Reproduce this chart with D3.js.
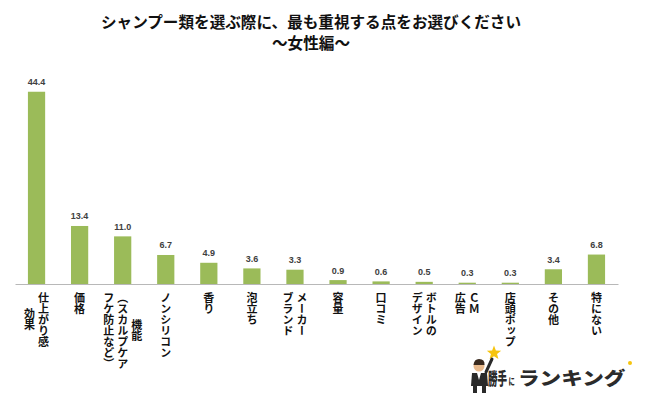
<!DOCTYPE html>
<html>
<head>
<meta charset="utf-8">
<script src="https://cdn.jsdelivr.net/npm/d3@7"></script>
<style>
  html, body { margin: 0; padding: 0; background: #fff; }
  svg { display: block; }
</style>
</head>
<body>
<svg id="chart" width="650" height="395"></svg>
<script>
// ---- data ----
const titleLines = ["シャンプー類を選ぶ際に、最も重視する点をお選びください", "～女性編～"];
const categories = ["仕上がり感効果", "価格", "機能（スカルプケアフケ防止など）", "ノンシリコン", "香り", "泡立ち", "メーカーブランド", "容量", "口コミ", "ボトルのデザイン", "ＣＭ広告", "店頭ポップ", "その他", "特にない"];
const categoryLines = [
  ["仕上がり感", "効果"],
  ["価格"],
  ["機能", "（スカルプケア", "フケ防止など）"],
  ["ノンシリコン"],
  ["香り"],
  ["泡立ち"],
  ["メーカー", "ブランド"],
  ["容量"],
  ["口コミ"],
  ["ボトルの", "デザイン"],
  ["ＣＭ", "広告"],
  ["店頭ポップ"],
  ["その他"],
  ["特にない"]
];
const values = [44.4, 13.4, 11.0, 6.7, 4.9, 3.6, 3.3, 0.9, 0.6, 0.5, 0.3, 0.3, 3.4, 6.8];
const logoParts = ["勝手", "に", "ランキング"];

// ---- chart ----
const svg = d3.select("#chart");
const jp = "'Noto Sans CJK JP', 'Noto Sans CJK SC', sans-serif";

const x = d3.scaleBand().domain(categories).range([15, 618]).paddingInner(0.6).paddingOuter(0.3);
const y = d3.scaleLinear().domain([0, 50]).range([284, 284 - 216.5]);

// title
svg.selectAll("text.title").data(titleLines).join("text")
  .attr("class", "title")
  .attr("x", 311)
  .attr("y", (d, i) => 28 + i * 21)
  .attr("text-anchor", "middle")
  .style("font-family", jp)
  .style("font-weight", "700")
  .style("font-size", "15.6px")
  .style("fill", "#111")
  .text(d => d);

// bars
svg.append("g").selectAll("rect").data(values).join("rect")
  .attr("x", (d, i) => x(categories[i]))
  .attr("y", d => y(d))
  .attr("width", x.bandwidth())
  .attr("height", d => y(0) - y(d))
  .attr("fill", "#9BBB59");

// value labels
svg.append("g").selectAll("text").data(values).join("text")
  .attr("x", (d, i) => x(categories[i]) + x.bandwidth() / 2)
  .attr("y", d => y(d) - 6.5)
  .attr("text-anchor", "middle")
  .style("font-family", "'Liberation Sans', Arial, sans-serif")
  .style("font-weight", "700")
  .style("font-size", "9px")
  .style("fill", "#404040")
  .text(d => d.toFixed(1));

// axis line
const axis = svg.append("g")
  .attr("transform", `translate(0,${y(0)})`)
  .call(d3.axisBottom(x).tickSize(0).tickFormat(""));
axis.select(".domain").attr("stroke", "#b8b8b8").attr("stroke-width", 1);

// category labels (vertical text, columns right to left)
const fs = 11, colPitch = 14, labelTop = 292;
categoryLines.forEach((lines, i) => {
  const cx = x(categories[i]) + x.bandwidth() / 2;
  const n = lines.length;
  const maxLen = d3.max(lines, l => l.length);
  const g = svg.append("g");
  g.selectAll("text").data(lines).join("text")
    .attr("x", (d, j) => cx + ((n - 1) / 2 - j) * colPitch)
    .attr("y", d => labelTop + (maxLen - d.length) * fs / 2)
    .style("writing-mode", "vertical-rl")
    .style("font-family", jp)
    .style("font-weight", "700")
    .style("font-size", fs + "px")
    .style("fill", "#111")
    .text(d => d);
});

// logo (approximation)
const logo = svg.append("g");
const star = d3.range(10).map(k => {
  const r = k % 2 === 0 ? 7.5 : 3.2;
  const a = -Math.PI / 2 + k * Math.PI / 5;
  return [494 + r * Math.cos(a), 353 + r * Math.sin(a)];
});
logo.append("polygon").attr("points", star.map(p => p.join(",")).join(" ")).attr("fill", "#F6C40E");
logo.append("line").attr("x1", 486).attr("y1", 372).attr("x2", 492).attr("y2", 359).attr("stroke", "#2a2a2a").attr("stroke-width", 3).attr("stroke-linecap", "round");
logo.append("circle").attr("cx", 479).attr("cy", 366).attr("r", 5.5).attr("fill", "#e8b98c");
logo.append("path").attr("d", "M473.5,365 Q474,359 479,359 Q485,359 484.5,365 Z").attr("fill", "#3a2a1e");
logo.append("path").attr("d", "M472,373 L487,373 L488,386 L471,386 Z").attr("fill", "#2a2a2a");
logo.append("path").attr("d", "M477,373 L479,380 L481,373 Z").attr("fill", "#fff");
logo.append("rect").attr("x", 473).attr("y", 386).attr("width", 4).attr("height", 7).attr("fill", "#2a2a2a");
logo.append("rect").attr("x", 482).attr("y", 386).attr("width", 4).attr("height", 7).attr("fill", "#2a2a2a");
const logoSpec = [
  { x: 488, size: 17, sx: 0.56 },
  { x: 508.5, size: 9, sx: 0.7 },
  { x: 518, size: 18, sx: 1.2 }
];
logo.selectAll("text").data(logoParts).join("text")
  .attr("transform", (d, i) => `translate(${logoSpec[i].x},385) scale(${logoSpec[i].sx},1)`)
  .style("font-family", jp)
  .style("font-weight", "900")
  .style("font-size", (d, i) => logoSpec[i].size + "px")
  .style("fill", "#2b2b2b")
  .text(d => d);
logo.append("circle").attr("cx", 630).attr("cy", 363).attr("r", 2).attr("fill", "#F6C40E");
</script>
</body>
</html>
